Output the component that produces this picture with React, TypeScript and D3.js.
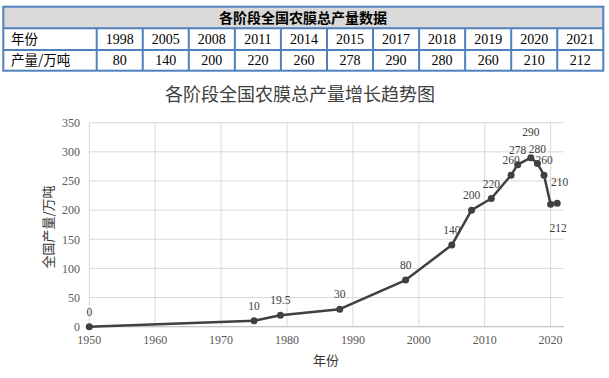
import React from "react";
import * as d3 from "d3";

const tableYears = ["1998", "2005", "2008", "2011", "2014", "2015", "2017", "2018", "2019", "2020", "2021"];
const tableValues = ["80", "140", "200", "220", "260", "278", "290", "280", "260", "210", "212"];
const tableTitle = "各阶段全国农膜总产量数据";
const rowLabels = ["年份", "产量/万吨"];

const chartYears = [1950, 1975, 1979, 1988, 1998, 2005, 2008, 2011, 2014, 2015, 2017, 2018, 2019, 2020, 2021];
const chartValues = [0, 10, 19.5, 30, 80, 140, 200, 220, 260, 278, 290, 280, 260, 210, 212];
const labelPlacement = ["above", "above", "above", "above", "above", "above", "above", "above", "above", "above", "high", "above", "above", "right", "below"];
const xTicks = [1950, 1960, 1970, 1980, 1990, 2000, 2010, 2020];
const yTicks = [0, 50, 100, 150, 200, 250, 300, 350];

const chartTitle = "各阶段全国农膜总产量增长趋势图";
const xTitle = "年份";
const yTitle = "全国产量/万吨";

export default function App() {
  const W = 609, H = 378;
  // table
  const tLeft = 3.3, tRight = 603.3, firstColRight = 96.7;
  const rowsY = [6.7, 28.3, 50, 70.7];
  const colScale = d3.scaleBand<string>().domain(tableYears).range([firstColRight, tRight]);
  const border = "#4F81BD";
  const serif = "'Liberation Serif', 'Times New Roman', serif";
  const cjk = "'Noto Sans CJK SC', sans-serif";

  // chart
  const x = d3.scaleLinear().domain([1950, 2022]).range([89.3, 563.8]);
  const y = d3.scaleLinear().domain([0, 350]).range([326.7, 122.7]);
  const line = d3.line<number>().x((_, i) => x(chartYears[i])).y((d) => y(d));

  const offsets: Record<string, [number, number]> = {
    above: [0, -15],
    high: [0, -26],
    right: [9, -22],
    below: [1, 25],
  };

  return (
    <svg width={W} height={H} style={{ position: "absolute", left: 0, top: 0, background: "#fff" }}>
      {/* table */}
      <rect x={tLeft} y={rowsY[0]} width={tRight - tLeft} height={rowsY[1] - rowsY[0]} fill="#D9D9D9" />
      <text x={303} y={(rowsY[0] + rowsY[1]) / 2} dy="0.36em" textAnchor="middle" fontFamily={cjk} fontWeight="bold" fontSize={14} fill="#000">
        {tableTitle}
      </text>
      {rowLabels.map((lab, r) => (
        <text key={lab} x={11} y={(rowsY[r + 1] + rowsY[r + 2]) / 2} dy="0.36em" fontFamily={cjk} fontSize={13.5} fill="#000">
          {lab}
        </text>
      ))}
      {tableYears.map((yr, i) => (
        <g key={yr}>
          <text x={colScale(yr)! + colScale.bandwidth() / 2} y={(rowsY[1] + rowsY[2]) / 2} dy="0.36em" textAnchor="middle" fontFamily={serif} fontSize={14} fill="#000">
            {yr}
          </text>
          <text x={colScale(yr)! + colScale.bandwidth() / 2} y={(rowsY[2] + rowsY[3]) / 2} dy="0.36em" textAnchor="middle" fontFamily={serif} fontSize={14} fill="#000">
            {tableValues[i]}
          </text>
        </g>
      ))}
      {/* table lines */}
      <g stroke={border} strokeWidth={2} fill="none">
        <rect x={tLeft} y={rowsY[0]} width={tRight - tLeft} height={rowsY[3] - rowsY[0]} />
        <line x1={tLeft} x2={tRight} y1={rowsY[1]} y2={rowsY[1]} />
        <line x1={tLeft} x2={tRight} y1={rowsY[2]} y2={rowsY[2]} />
        <line x1={firstColRight} x2={firstColRight} y1={rowsY[1]} y2={rowsY[3]} />
        {tableYears.slice(1).map((yr) => (
          <line key={yr} x1={colScale(yr)!} x2={colScale(yr)!} y1={rowsY[1]} y2={rowsY[3]} />
        ))}
      </g>

      {/* chart title */}
      <text x={300} y={95} dy="0.36em" textAnchor="middle" fontFamily={cjk} fontSize={18} fill="#404040">
        {chartTitle}
      </text>

      {/* grid */}
      <g stroke="#D9D9D9" strokeWidth={1}>
        {yTicks.map((t) => (
          <line key={t} x1={x(1950)} x2={x(2022)} y1={y(t)} y2={y(t)} />
        ))}
        {xTicks.map((t) => (
          <line key={t} x1={x(t)} x2={x(t)} y1={y(0)} y2={y(350)} />
        ))}
      </g>
      <line x1={x(1950)} x2={x(2022)} y1={y(0)} y2={y(0)} stroke="#BFBFBF" strokeWidth={1} />

      {/* tick labels */}
      {yTicks.map((t) => (
        <text key={t} x={80} y={y(t)} dy="0.36em" textAnchor="end" fontFamily={serif} fontSize={12} fill="#595959">
          {t}
        </text>
      ))}
      {xTicks.map((t) => (
        <text key={t} x={x(t)} y={340} dy="0.36em" textAnchor="middle" fontFamily={serif} fontSize={12} fill="#595959">
          {t}
        </text>
      ))}

      {/* axis titles */}
      <text transform={`translate(48,227) rotate(-90)`} dy="0.36em" textAnchor="middle" fontFamily={cjk} fontSize={13} fill="#333">
        {yTitle}
      </text>
      <text x={326} y={360} dy="0.36em" textAnchor="middle" fontFamily={cjk} fontSize={13} fill="#333">
        {xTitle}
      </text>

      {/* line */}
      <path d={line(chartValues) || ""} fill="none" stroke="#404040" strokeWidth={2.5} strokeLinejoin="round" />
      {chartValues.map((v, i) => (
        <circle key={i} cx={x(chartYears[i])} cy={y(v)} r={3.5} fill="#404040" />
      ))}
      {chartValues.map((v, i) => {
        const [dx, dy] = offsets[labelPlacement[i]];
        return (
          <text key={"l" + i} x={x(chartYears[i]) + dx} y={y(v) + dy} dy="0.36em" textAnchor="middle" fontFamily={serif} fontSize={11.5} fill="#404040">
            {String(v)}
          </text>
        );
      })}
    </svg>
  );
}
